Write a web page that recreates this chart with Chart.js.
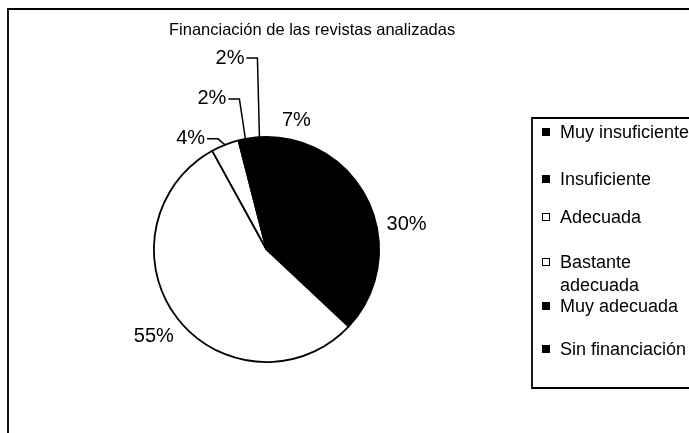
<!DOCTYPE html>
<html>
<head>
<meta charset="utf-8">
<script src="https://cdn.jsdelivr.net/npm/chart.js@4"></script>
<style>
    html, body { margin: 0; padding: 0; background: #fff; }
    #wrap { position: relative; width: 689px; height: 433px; }
</style>
</head>
<body>
<div id="wrap"><canvas id="pieChart" width="689" height="433"></canvas></div>
<script>
const categories = ['Muy insuficiente', 'Insuficiente', 'Adecuada', ['Bastante', 'adecuada'], 'Muy adecuada', 'Sin financiación'];
const shares = [7, 30, 55, 4, 2, 2];
const sliceColors = ['#000000', '#000000', '#ffffff', '#ffffff', '#000000', '#000000'];
const chartTitle = 'Financiación de las revistas analizadas';

const FONT = '"Liberation Sans", Arial, sans-serif';

// small slices get a moved label with a leader line (elbow offset from the arc edge)
const leaders = {
    3: { dx: -7, dy: -6 },
    4: { dx: -6, dy: -40 },
    5: { dx: -2, dy: -79 }
};

// legend text baselines, one per category (second line for wrapped labels)
const legendBaselines = [138, 185, 223, [268, 291], 312, 355];

const framePlugin = {
    id: 'frame',
    beforeDraw(chart) {
        const c = chart.ctx;
        c.save();
        c.fillStyle = '#fff';
        c.fillRect(0, 0, chart.width, chart.height);
        c.strokeStyle = '#000';
        c.lineWidth = 1.8;
        c.beginPath();
        c.moveTo(8, chart.height);
        c.lineTo(8, 9);
        c.lineTo(chart.width, 9);
        c.stroke();

        c.fillStyle = '#000';
        c.font = `16.5px ${FONT}`;
        c.textAlign = 'left';
        c.textBaseline = 'alphabetic';
        c.fillText(chartTitle, 169, 35);
        c.restore();
    }
};

const labelPlugin = {
    id: 'pctLabels',
    afterDatasetsDraw(chart) {
        const c = chart.ctx;
        const meta = chart.getDatasetMeta(0);
        const total = shares.reduce((a, b) => a + b, 0);
        c.save();
        c.font = `20px ${FONT}`;
        c.fillStyle = '#000';
        c.strokeStyle = '#000';
        c.lineWidth = 1.5;
        c.textBaseline = 'middle';

        meta.data.forEach((arc, i) => {
            const p = arc.getProps(['x', 'y', 'startAngle', 'endAngle', 'outerRadius'], true);
            const mid = (p.startAngle + p.endAngle) / 2;
            const cos = Math.cos(mid), sin = Math.sin(mid);
            const txt = Math.round(shares[i] / total * 100) + '%';
            const w = c.measureText(txt).width;

            if (leaders[i]) {
                const ax = p.x + cos * p.outerRadius;
                const ay = p.y + sin * p.outerRadius;
                const ex = ax + leaders[i].dx;
                const ey = ay + leaders[i].dy;
                c.beginPath();
                c.moveTo(ax, ay);
                c.lineTo(ex, ey);
                c.lineTo(ex - 11, ey);
                c.stroke();
                c.textAlign = 'right';
                c.fillText(txt, ex - 13, ey);
            } else {
                const r = p.outerRadius + 10;
                const lx = p.x + cos * r + cos * w / 2;
                const ly = p.y + sin * r + sin * (sin > 0 ? 20 : 10);
                c.textAlign = 'center';
                c.fillText(txt, lx, ly);
            }
        });
        c.restore();
    }
};

const legendPlugin = {
    id: 'boxLegend',
    afterDraw(chart) {
        const c = chart.ctx;
        c.save();
        c.strokeStyle = '#000';
        c.lineWidth = 1.8;
        c.beginPath();
        c.moveTo(chart.width + 2, 118);
        c.lineTo(532, 118);
        c.lineTo(532, 388);
        c.lineTo(chart.width + 2, 388);
        c.stroke();

        c.font = `18px ${FONT}`;
        c.textAlign = 'left';
        c.textBaseline = 'alphabetic';
        categories.forEach((label, i) => {
            const lines = Array.isArray(label) ? label : [label];
            const bases = Array.isArray(legendBaselines[i]) ? legendBaselines[i] : [legendBaselines[i]];
            const b0 = bases[0];
            if (sliceColors[i] === '#000000') {
                c.fillStyle = '#000';
                c.fillRect(542, b0 - 10, 8, 8);
            } else {
                c.fillStyle = '#fff';
                c.fillRect(542.5, b0 - 9.5, 7, 7);
                c.lineWidth = 1;
                c.strokeRect(542.5, b0 - 9.5, 7, 7);
            }
            c.fillStyle = '#000';
            lines.forEach((ln, k) => c.fillText(ln, 560, bases[k]));
        });
        c.restore();
    }
};

new Chart(document.getElementById('pieChart'), {
    type: 'pie',
    data: {
        labels: categories,
        datasets: [{
            data: shares,
            backgroundColor: sliceColors,
            borderColor: '#000000',
            borderWidth: 1.8,
            hoverOffset: 0
        }]
    },
    options: {
        responsive: false,
        animation: false,
        layout: { padding: { left: 153, top: 136, right: 309, bottom: 70 } },
        plugins: {
            legend: { display: false },
            title: { display: false },
            tooltip: { enabled: false }
        }
    },
    plugins: [framePlugin, labelPlugin, legendPlugin]
});
</script>
</body>
</html>
